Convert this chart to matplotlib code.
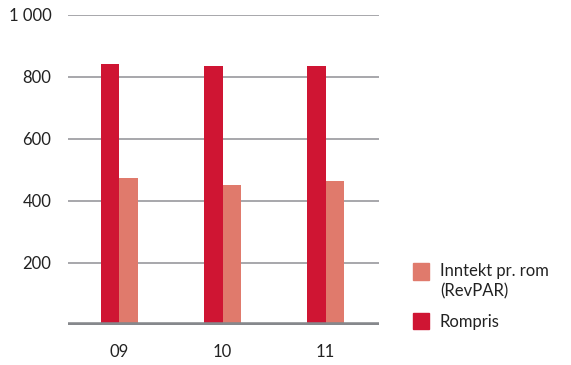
import matplotlib
matplotlib.use('Agg')
import matplotlib.pyplot as plt
from matplotlib.patches import Rectangle
import numpy as np

years = ['09', '10', '11']
rompris = [842, 835, 835]
revpar = [474, 452, 465]
y_ticks = [200, 400, 600, 800, 1000]
y_labels = ['200', '400', '600', '800', '1 000']

red = '#cf1533'
pink = '#e07a6c'
txt = '#222222'

plt.rcParams['font.family'] = ['Lato', 'DejaVu Sans']

W, H = 571, 365
fig = plt.figure(figsize=(W / 100, H / 100), dpi=100)
ax = fig.add_axes([0.119, 0.1096, 0.545, 0.85])

x = np.arange(len(years))
w = 0.18
ax.bar(x - w / 2, rompris, w, color=red, zorder=3)
ax.bar(x + w / 2, revpar, w, color=pink, zorder=3)

for t in y_ticks:
    ax.axhline(t, color='#a7a7ab', lw=1.4, zorder=1)
ax.axhline(0, color='#86888c', lw=4, zorder=4)

ax.set_xlim(-0.5, 2.52)
ax.set_ylim(0, 1000)
ax.set_yticks(y_ticks)
ax.set_yticklabels(y_labels)
ax.set_xticks(x)
ax.set_xticklabels(years)
ax.tick_params(length=0, labelsize=12, colors=txt, pad=12)
ax.tick_params(axis='x', pad=14)
for s in ax.spines.values():
    s.set_visible(False)

# legend drawn by hand: swatch aligned with the first text line
def fx(px):
    return px / W

def fy(py):
    return 1 - py / H

fig.add_artist(Rectangle((fx(413), fy(280)), fx(16), 17 / H, color=pink, transform=fig.transFigure))
fig.add_artist(Rectangle((fx(413), fy(329)), fx(16), 16 / H, color=red, transform=fig.transFigure))
fig.text(fx(440), fy(263), 'Inntekt pr. rom\n(RevPAR)', fontsize=12, color=txt,
         va='top', ha='left', linespacing=1.3)
fig.text(fx(440), fy(322), 'Rompris', fontsize=12, color=txt, va='center', ha='left')

fig.savefig('out.png', dpi=100)
